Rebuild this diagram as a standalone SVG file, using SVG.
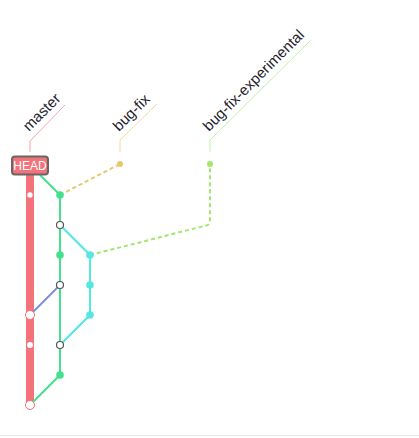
<svg xmlns="http://www.w3.org/2000/svg" width="419" height="438" viewBox="0 0 419 438">
<style>
.lbl{font-family:"Liberation Sans",Arial,sans-serif;font-size:15px;fill:#1f2430}
.ll{fill:none;stroke-width:1}
.br{fill:none;stroke-width:2}
.dash{stroke-dasharray:4 3}
.hollow{fill:#fff;stroke:#555;stroke-width:1.2}
.mdot{fill:#fff}
.mring{fill:#fff;stroke:#f4727a;stroke-width:1}
</style>
<rect width="419" height="438" fill="#fff"/>
<line x1="0" y1="435.5" x2="419" y2="435.5" stroke="#e6e6e6" stroke-width="1"/>
<g id="connectors">
  <line x1="30" y1="172" x2="30" y2="405" stroke="#f4727a" stroke-width="8"/>
  <polyline class="br" stroke="#45e08e" points="40,175 60,195 60,375 30,405"/>
  <polyline class="br" stroke="#56e6e4" points="60,225 90,255 90,315 60,345"/>
  <line class="br" stroke="#7b8fdc" x1="60" y1="285" x2="30" y2="315"/>
  <line class="br dash" stroke="#e8c76c" x1="60" y1="195" x2="120" y2="164"/>
  <polyline class="br dash" stroke="#9fe86c" points="90,255 208,225 210,222 210,164"/>
  <polyline class="ll" stroke="#f9a3aa" points="30,152 30,141 65,105"/>
  <polyline class="ll" stroke="#f1dc9c" points="120,152 120,140 157,104"/>
  <polyline class="ll" stroke="#c4f2a4" points="210,152 210,140 311,40"/>
</g>
<g id="branch-master">
  <text class="lbl" transform="translate(29,132) rotate(-45)">master</text>
</g>
<g id="branch-bug-fix">
  <text class="lbl" transform="translate(119,132) rotate(-45)">bug-fix</text>
</g>
<g id="branch-bug-fix-experimental">
  <text class="lbl" transform="translate(209,132) rotate(-45)">bug-fix-experimental</text>
</g>
<g id="head">
  <rect x="12" y="156.5" width="36" height="18" rx="3" fill="#f4727a" stroke="#666" stroke-width="2"/>
  <text x="30" y="169.8" text-anchor="middle" font-family="'Liberation Sans',Arial,sans-serif" font-size="12" fill="#fff">HEAD</text>
</g>
<g id="master-commits">
  <circle class="mdot" cx="30" cy="195" r="2.7"/>
  <circle class="mring" cx="30" cy="315" r="4.5"/>
  <circle class="mdot" cx="30" cy="345" r="3"/>
  <circle class="mring" cx="30" cy="405" r="4.5"/>
</g>
<g id="green-commits">
  <circle cx="60" cy="195" r="3.8" fill="#45e08e"/>
  <circle class="hollow" cx="60" cy="225" r="3.5"/>
  <circle cx="60" cy="255" r="3.8" fill="#45e08e"/>
  <circle class="hollow" cx="60" cy="285" r="3.5"/>
  <circle class="hollow" cx="60" cy="345" r="3.5"/>
  <circle cx="60" cy="375" r="3.8" fill="#45e08e"/>
</g>
<g id="cyan-commits">
  <circle cx="90" cy="255" r="3.8" fill="#56e6e4"/>
  <circle cx="90" cy="285" r="3.8" fill="#56e6e4"/>
  <circle cx="90" cy="315" r="3.8" fill="#56e6e4"/>
</g>
<g id="bug-fix-commit">
  <circle cx="120" cy="164" r="3" fill="#e8c76c"/>
</g>
<g id="bug-fix-experimental-commit">
  <circle cx="210" cy="164" r="3" fill="#9fe86c"/>
</g>
</svg>
